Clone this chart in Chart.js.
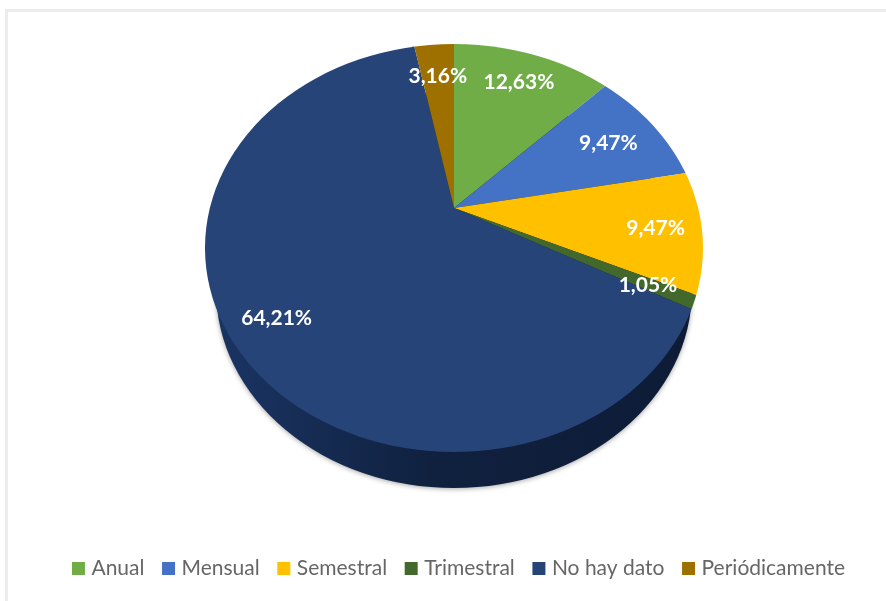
<!DOCTYPE html>
<html><head><meta charset="utf-8">
<style>html,body{margin:0;padding:0;background:#fff}canvas{display:block;filter:blur(0.6px)}</style>
<script src="https://cdn.jsdelivr.net/npm/chart.js@4"></script>
</head><body><canvas id="c" width="886" height="601"></canvas>
<script>
const categories = ['Anual','Mensual','Semestral','Trimestral','No hay dato','Periódicamente'];
const values = [12.63,9.47,9.47,1.05,64.21,3.16];
const colors = ['#70AD47','#4472C4','#FFC000','#43682B','#264478','#9E7000'];

const look = {
  apex:{x:454,y:208}, squash:0.82,
  top:{x:454,y:248,rx:249,ry:204},
  wall:{x:454,y:290,rx:238,ry:198},
  labelDist:[168,174,203,215,222,163]
};

const pie3d = {
  id:'pie3d',
  beforeDraw(chart){
    const c=chart.ctx;
    c.save();
    c.fillStyle='#fff';c.fillRect(0,0,886,601);
    c.strokeStyle='#ececec';c.lineWidth=3;
    c.beginPath();c.moveTo(6.5,601);c.lineTo(6.5,10.5);c.lineTo(886,10.5);c.stroke();
    c.restore();
  },
  beforeDatasetsDraw(chart){
    const c=chart.ctx, a=chart.chartArea, w=look.wall, t=look.top;
    c.save();
    const g=c.createLinearGradient(w.x-w.rx,0,w.x+w.rx,0);
    g.addColorStop(0,'#1a3463');g.addColorStop(0.45,'#10213f');g.addColorStop(1,'#0d1b36');
    c.shadowColor='rgba(0,0,0,0.35)';c.shadowBlur=5;c.shadowOffsetY=1;
    c.fillStyle=g;
    c.beginPath();c.ellipse(w.x,w.y,w.rx,w.ry,0,0,Math.PI*2);c.fill();
    c.restore();
    c.save();
    c.beginPath();c.ellipse(t.x,t.y,t.rx,t.ry,0,0,Math.PI*2);c.clip();
    c.translate(look.apex.x,look.apex.y);
    c.scale(1,look.squash);
    c.translate(-(a.left+a.right)/2,-(a.top+a.bottom)/2);
  },
  afterDatasetsDraw(chart){
    const c=chart.ctx;
    c.restore();
    c.save();
    c.fillStyle='#fff';
    c.font='bold 21px Lato';
    c.textAlign='center';c.textBaseline='middle';
    chart.getDatasetMeta(0).data.forEach((arc,i)=>{
      const m=(arc.startAngle+arc.endAngle)/2, r=look.labelDist[i];
      const x=look.apex.x+r*Math.cos(m), y=look.apex.y+r*look.squash*Math.sin(m)+1;
      c.fillText(values[i].toFixed(2).replace('.',',')+'%',x,y);
    });
    c.restore();
  }
};

new Chart(document.getElementById('c'),{
  type:'pie',
  data:{labels:categories,datasets:[{data:values,backgroundColor:colors,borderWidth:0,clip:false}]},
  plugins:[pie3d],
  options:{
    responsive:false,animation:false,radius:310,
    events:[],
    layout:{padding:{left:35,right:0,top:0,bottom:12}},
    plugins:{
      tooltip:{enabled:false},
      legend:{position:'bottom',labels:{
        boxWidth:5,boxHeight:5,padding:21.6,color:'#666666',font:{family:'Lato',size:21},
        generateLabels(chart){
          return Chart.overrides.pie.plugins.legend.labels.generateLabels(chart).map(it=>
            Object.assign(it,{lineWidth:8,strokeStyle:it.fillStyle,lineJoin:'miter'}));
        }
      }}
    }
  }
});
</script></body></html>
